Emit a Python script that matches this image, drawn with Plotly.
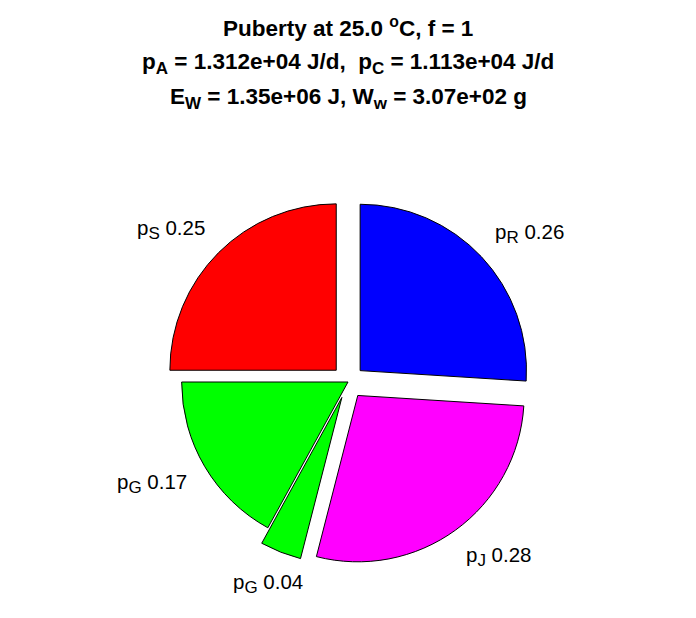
import math
import plotly.graph_objects as go

labels = ["p_R", "p_J", "p_G", "p_G", "p_S"]
values = [0.26, 0.28, 0.04, 0.17, 0.25]
colors = ["#0000FF", "#FF00FF", "#00FF00", "#00FF00", "#FF0000"]
explode = [0.1, 0.1, 0.1, 0.0, 0.1]

TITLE_SIZE = 22.5
SUBT = 17     # title subscript size
LABEL_SIZE = 20.5
SUBL = 17     # label subscript size


def sub(t, size):
    return f'<sub><span style="font-size:{size}px">{t}</span></sub>'


def lab_html(s, size):
    base, _, subs = s.partition("_")
    return base + (sub(subs, size) if subs else "")


title_lines = [
    "Puberty at 25.0 <sup>o</sup>C, f = 1",
    f"p{sub('A', SUBT)} = 1.312e+04 J/d,&nbsp; p{sub('C', SUBT)} = 1.113e+04 J/d",
    f"E{sub('W', SUBT)} = 1.35e+06 J, W{sub('w', SUBT)} = 3.07e+02 g",
]

W, H = 696, 618
ML, MR, MT, MB = 142, 158, 191, 61
pw, ph = W - ML - MR, H - MT - MB
FONT = "Liberation Sans, Arial, Helvetica, sans-serif"


def to_paper(px, py):
    return (px - ML) / pw, 1 - (py - MT) / ph


fig = go.Figure(go.Pie(
    values=values,
    textinfo="none",
    sort=False,
    direction="clockwise",
    rotation=0,
    pull=explode,
    marker=dict(colors=colors, line=dict(color="black", width=1)),
    showlegend=False,
    hoverinfo="skip",
))

# pie geometry (pixels) derived from the domain, as plotly lays it out
cx, cy = ML + pw / 2, MT + ph / 2
R = min(pw, ph) / 2 / (1 + max(explode))

annotations = []
total = sum(values)
cum = 0.0
for lab, v, ex in zip(labels, values, explode):
    mid = (cum + v / 2) / total * 2 * math.pi
    cum += v
    s, c = math.sin(mid), math.cos(mid)
    rho = R * (1.2 + ex)
    px, py = cx + rho * s, cy - rho * c
    shift = 0 if abs(s) < 0.45 else (24 if s > 0 else -24)
    x, y = to_paper(px, py)
    annotations.append(dict(
        x=x, y=y, xref="paper", yref="paper", xanchor="center", yanchor="middle",
        xshift=shift,
        text=f"{lab_html(lab, SUBL)} {v:.2f}", showarrow=False,
        font=dict(family=FONT, size=LABEL_SIZE, color="black"),
    ))

title_y = [19, 55, 91]
for line, ty in zip(title_lines, title_y):
    x, y = to_paper(340, ty)
    annotations.append(dict(
        x=x, y=y, xref="paper", yref="paper", xanchor="center", yanchor="middle",
        text="<b>" + line + "</b>", showarrow=False,
        font=dict(family=FONT, size=TITLE_SIZE, color="black"),
    ))

fig.update_layout(
    width=W, height=H,
    paper_bgcolor="white", plot_bgcolor="white",
    margin=dict(l=ML, r=MR, t=MT, b=MB),
    annotations=annotations,
)

fig.write_html("out.html")
